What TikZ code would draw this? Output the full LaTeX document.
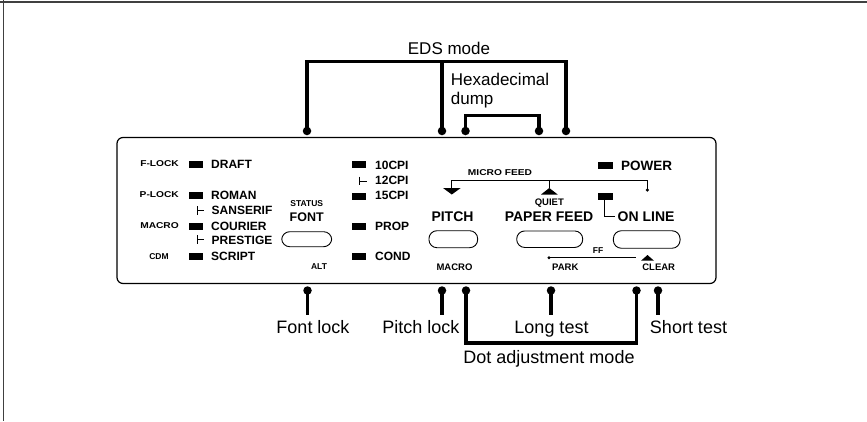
\documentclass[tikz,border=0pt]{standalone}
\usepackage{fontspec}
\setmainfont{Liberation Sans}
\newfontfamily\widefont[FakeStretch=1.2]{Liberation Sans}
\begin{document}
\begin{tikzpicture}[x=1pt,y=-1pt,
  conn/.style={line width=3.2pt},
  pindot/.style={circle,fill=black,inner sep=0pt,minimum size=8.5pt},
  lab/.style={font=\fontsize{18}{20}\selectfont,anchor=base,inner sep=2pt},
  big/.style={font=\bfseries\fontsize{14}{16}\selectfont,anchor=base,inner sep=0pt},
  mid/.style={font=\bfseries\fontsize{12}{14}\selectfont,anchor=base west,inner sep=0pt},
  sm/.style={font=\bfseries\fontsize{8.5}{10}\selectfont,anchor=base,inner sep=0pt},
  smw/.style={font=\widefont\bfseries\fontsize{8.5}{10}\selectfont,anchor=base,inner sep=0pt},
  smb/.style={font=\bfseries\fontsize{9.5}{11}\selectfont,anchor=base,inner sep=0pt},
  led/.style={fill=black,inner sep=0pt,minimum width=14pt,minimum height=7pt},
  btn/.style={draw,line width=0.9pt,rounded corners=8pt,inner sep=0pt},
  thinline/.style={line width=0.9pt}]
\useasboundingbox (0,0) rectangle (867,421);
% frame
\draw[line width=1.8pt,black!75] (0,1.8) -- (867,1.8);
\draw[line width=1.8pt,black!75] (3.5,0) -- (3.5,421);
% panel
\node[draw,line width=1.2pt,rounded corners=6pt,minimum width=599pt,minimum height=146pt,inner sep=0pt] (panel) at (416.5,210.5) {};

% left column
\node[smw,anchor=base east] (flock) at (179,166.7) {F-LOCK};
\node[smw,anchor=base east] (plock) at (179,197.3) {P-LOCK};
\node[smw,anchor=base east] (macroL) at (179,228.3) {MACRO};
\node[sm] (cdm) at (159,259.3) {CDM};
\node[led] (l1) at (196,164.5) {};
\node[led] (l2) at (196,195.5) {};
\node[led] (l3) at (196,226.5) {};
\node[led] (l4) at (196,256.5) {};
\node[mid] (draft) at (211,168.3) {DRAFT};
\node[mid] (roman) at (211,199.3) {ROMAN};
\node[mid] (sans) at (211.5,214) {SANSERIF};
\node[mid] (courier) at (211,230.5) {COURIER};
\node[mid] (prest) at (211.5,244.2) {PRESTIGE};
\node[mid] (script) at (211,260.5) {SCRIPT};
\draw[thinline] (197,206.3) -- (197,214.7) (197,210.5) -- (204,210.5);
\draw[thinline] (197,235.3) -- (197,243.7) (197,239.5) -- (204,239.5);

% font
\node[sm] (status) at (306.7,206) {STATUS};
\node[big,font=\bfseries\fontsize{12.5}{14}\selectfont] (font) at (306.7,221.7) {FONT};
\node[btn,minimum width=50pt,minimum height=15pt] (fontbtn) at (306.7,239.2) {};
\node[sm] (alt) at (319,269) {ALT};

% pitch column
\node[led] (c1) at (358.5,164.5) {};
\node[led] (c3) at (358.5,196) {};
\node[led] (c4) at (358.5,226) {};
\node[led] (c5) at (358.5,256) {};
\node[mid] (cpi10) at (375,169) {10CPI};
\node[mid] (cpi12) at (375,184.5) {12CPI};
\node[mid] (cpi15) at (375,199.5) {15CPI};
\node[mid] (prop) at (375,230.5) {PROP};
\node[mid] (cond) at (375,260.5) {COND};
\draw[thinline] (359.3,176.7) -- (359.3,185.3) (359.3,181) -- (366.7,181);

% pitch
\node[big] (pitch) at (452.5,221.7) {PITCH};
\node[btn,minimum width=48.7pt,minimum height=17pt] (pitchbtn) at (453.3,239.2) {};
\node[smb] (macroB) at (454.5,270.7) {MACRO};

% micro feed
\node[smw] (micro) at (500,175) {MICRO FEED};
\draw[thinline] (451.8,188) -- (451.8,180) -- (647.3,180) -- (647.3,189);
\draw[thinline] (549.3,180) -- (549.3,188);
\fill (443,188) -- (460.7,188) -- (451.8,194.5) -- cycle;
\fill (541,194.5) -- (557.7,194.5) -- (549.3,188) -- cycle;
\fill (647.3,190) circle (1.8);
\node[smb] (quiet) at (549.3,205.7) {QUIET};

% paper feed
\node[big] (paper) at (549,221.7) {PAPER FEED};
\node[btn,minimum width=66pt,minimum height=16.5pt] (paperbtn) at (549.7,239.2) {};
\node[sm] (ff) at (598,253.3) {FF};
\fill (549,257.7) circle (1.6);
\draw[thinline] (549,257.7) -- (635.7,257.7);
\node[smb,anchor=base west] (park) at (552,270.7) {PARK};
\fill (641,260.7) -- (654,260.7) -- (647.5,255) -- cycle;
\node[smb] (clear) at (658.7,270.7) {CLEAR};

% power / on line
\node[led,minimum width=15pt] (pled) at (605.8,165) {};
\node[big,font=\bfseries\fontsize{13.5}{16}\selectfont,anchor=base west] (power) at (621,170.7) {POWER};
\node[led,minimum width=15pt] (oled) at (605.5,196) {};
\draw[thinline] (604.3,199.5) -- (604.3,216.7) -- (615,216.7);
\node[big,anchor=base west] (online) at (617.5,221) {ON LINE};
\node[btn,minimum width=66.7pt,minimum height=17.5pt] (onbtn) at (646.7,239.5) {};

% top pins and brackets
\node[pindot] (e1) at (307,131) {};
\node[pindot] (e2) at (442,131) {};
\node[pindot] (e3) at (566,131) {};
\node[pindot] (h1) at (465.5,131) {};
\node[pindot] (h2) at (539,131) {};
\coordinate (edsbar) at (442,61.5);
\coordinate (hexbar) at (502,115.5);
\draw[conn] (e1.center) |- (edsbar) -| (e3.center);
\draw[conn] (e2.center) -- (edsbar);
\draw[conn] (h1.center) |- (hexbar) -| (h2.center);
\node[lab,font=\fontsize{17}{20}\selectfont] (eds) at (449,54) {EDS mode};
\node[lab,font=\fontsize{17}{20}\selectfont,anchor=base west,inner sep=0pt] (hex) at (450.7,85) {Hexadecimal};
\node[lab,font=\fontsize{17}{20}\selectfont,anchor=base west,inner sep=0pt] (dump) at (450.7,104.5) {dump};

% bottom pins
\node[pindot] (bfont) at (307.5,290.5) {};
\node[pindot] (bpitch) at (442,290.5) {};
\node[pindot] (bdotL) at (466,290.5) {};
\node[pindot] (blong) at (551,290.5) {};
\node[pindot] (bdotR) at (636.5,290.5) {};
\node[pindot] (bshort) at (658,290.5) {};
\node[lab] (lfont) at (313,333) {Font lock};
\node[lab] (lpitch) at (421,333) {Pitch lock};
\node[lab] (llong) at (551.5,333) {Long test};
\node[lab] (lshort) at (688.5,333) {Short test};
\node[lab] (ldot) at (549,363) {Dot adjustment mode};
\coordinate (dotbar) at (551,343);
\draw[conn] (bfont.center) -- (bfont |- 0,315);
\draw[conn] (bpitch.center) -- (bpitch |- 0,315);
\draw[conn] (blong.center) -- (blong |- 0,315);
\draw[conn] (bshort.center) -- (bshort |- 0,315);
\draw[conn] (bdotL.center) |- (dotbar) -| (bdotR.center);
\end{tikzpicture}
\end{document}
